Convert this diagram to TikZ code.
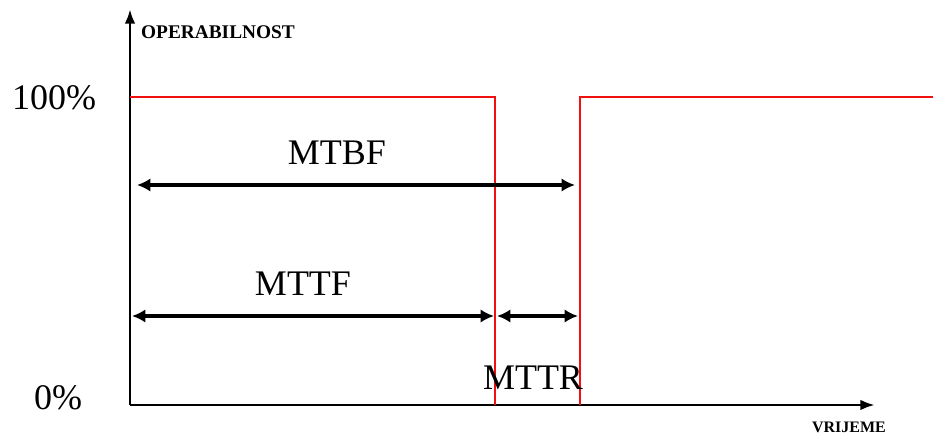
\documentclass[tikz,border=0pt]{standalone}
\usepackage{fontspec}
\setmainfont{Liberation Serif}
\usepackage{tikz}
\usetikzlibrary{arrows.meta, positioning}
\definecolor{uptimered}{HTML}{F01010}
\tikzstyle{axis} = [-{Latex[length=11pt, width=8pt]}, line width=2.2pt, black]
\tikzstyle{dimarrow} = [{Latex[length=10pt, width=10pt]}-{Latex[length=10pt, width=10pt]}, line width=3pt, black]

\begin{document}
\begin{tikzpicture}[
    x=0.75pt, y=-0.75pt,
    signal/.style={line width=1.4pt, color=uptimered},
    biglabel/.style={font=\fontsize{27}{30}\selectfont, inner sep=0pt},
    axlabel/.style={font=\bfseries\fontsize{14.5}{16}\selectfont, inner sep=0pt}
  ]
    \useasboundingbox (0,0) rectangle (933,434);

    % Axes
    \coordinate (o) at (130,405);
    \coordinate (ytop) at (130,9);
    \coordinate (xend) at (875,405);
    \draw[axis] (o) -- (ytop);
    \draw[axis] (o) -- (xend);
    \node[axlabel] (ylab) at (218,32) {OPERABILNOST};
    \node[axlabel, font=\bfseries\fontsize{12}{14}\selectfont] (xlab) at (849,427) {VRIJEME};

    % Level labels
    \node[biglabel] (full) at (54,98) {100\%};
    \node[biglabel] (zero) at (58,398) {0\%};

    % Operability: up, failure, repair, up again
    \coordinate (fail) at (495,97);
    \coordinate (rep) at (580,97);
    \draw[signal] (130,97) -- (fail) -- (495,405);
    \draw[signal] (580,405) -- (rep) -- (933,97);

    % MTBF
    \coordinate (b1) at (137,185);
    \coordinate (b2) at (575,185);
    \draw[dimarrow] (b1) -- (b2);
    \node[biglabel] (mtbf) at (337,153) {MTBF};

    % MTTF and MTTR
    \coordinate (f1) at (132,316);
    \coordinate (f2) at (494,316);
    \coordinate (r1) at (497,316);
    \coordinate (r2) at (578,316);
    \draw[dimarrow] (f1) -- (f2);
    \draw[dimarrow] (r1) -- (r2);
    \node[biglabel] (mttf) at (303,284) {MTTF};
    \node[biglabel] (mttr) at (533,378) {MTTR};
  \end{tikzpicture}
\end{document}
